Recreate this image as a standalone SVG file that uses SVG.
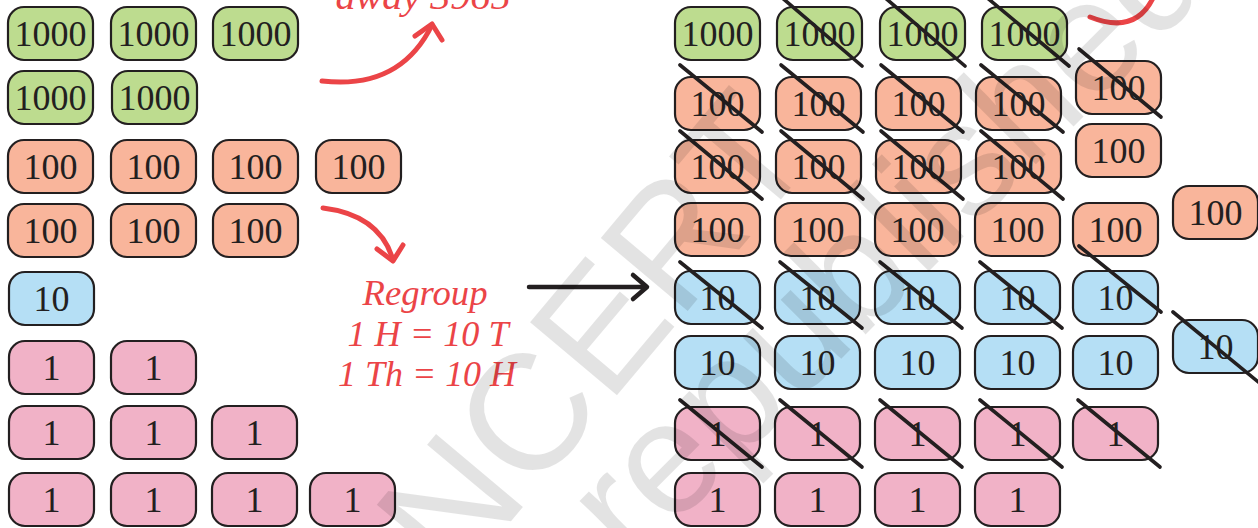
<svg xmlns="http://www.w3.org/2000/svg" width="1258" height="528" viewBox="0 0 1258 528">
<defs>
<style>
.t{stroke:#231f20;stroke-width:2.2}
.th{fill:#bddc8f}
.hu{fill:#f9b59b}
.te{fill:#b5dff5}
.on{fill:#f1b2c7}
.n{font-family:"Liberation Serif","DejaVu Serif",serif;font-size:36px;fill:#231f20;text-anchor:middle}
.x{stroke:#231f20;stroke-width:3.6;stroke-linecap:round}
.red{fill:none;stroke:#eb4447;stroke-width:5;stroke-linecap:round;stroke-linejoin:round}
.rt{font-family:"Liberation Serif","DejaVu Serif",serif;font-style:italic;font-size:35px;fill:#eb4447;text-anchor:middle}
.wm{font-family:"Liberation Sans","DejaVu Sans",sans-serif;fill:#000;fill-opacity:0.11}
</style>
<symbol id="g1000" overflow="visible"><rect class="t th" x="0" y="0" width="85" height="53" rx="16"/><text class="n" x="42.5" y="38.5">1000</text></symbol>
<symbol id="g100" overflow="visible"><rect class="t hu" x="0" y="0" width="85" height="53" rx="16"/><text class="n" x="42.5" y="38.5">100</text></symbol>
<symbol id="g10" overflow="visible"><rect class="t te" x="0" y="0" width="85" height="53" rx="16"/><text class="n" x="42.5" y="38.5">10</text></symbol>
<symbol id="g1" overflow="visible"><rect class="t on" x="0" y="0" width="85" height="53" rx="16"/><text class="n" x="42.5" y="38.5">1</text></symbol>
</defs>
<rect width="1258" height="528" fill="#fff"/>

<g id="left-thousands">
<use href="#g1000" x="8" y="7"/><use href="#g1000" x="111" y="7"/><use href="#g1000" x="213" y="7"/>
<use href="#g1000" x="8" y="71"/><use href="#g1000" x="112" y="71"/>
</g>
<g id="left-hundreds">
<use href="#g100" x="8" y="140"/><use href="#g100" x="111" y="140"/><use href="#g100" x="213" y="140"/><use href="#g100" x="316" y="140"/>
<use href="#g100" x="8" y="204"/><use href="#g100" x="111" y="204"/><use href="#g100" x="213" y="204"/>
</g>
<g id="left-tens">
<use href="#g10" x="9" y="272"/>
</g>
<g id="left-ones">
<use href="#g1" x="9" y="341"/><use href="#g1" x="111" y="341"/>
<use href="#g1" x="9" y="406"/><use href="#g1" x="111" y="406"/><use href="#g1" x="212" y="406"/>
<use href="#g1" x="9" y="473"/><use href="#g1" x="111" y="473"/><use href="#g1" x="212" y="473"/><use href="#g1" x="310" y="473"/>
</g>

<g id="right-thousands">
<use href="#g1000" x="675" y="7"/><use href="#g1000" x="777" y="7"/><use href="#g1000" x="880" y="7"/><use href="#g1000" x="982" y="7"/>
</g>
<g id="right-hundreds">
<use href="#g100" x="675" y="77"/><use href="#g100" x="776" y="77"/><use href="#g100" x="876" y="77"/><use href="#g100" x="976" y="77"/><use href="#g100" x="1076" y="61"/>
<use href="#g100" x="675" y="140"/><use href="#g100" x="776" y="140"/><use href="#g100" x="876" y="140"/><use href="#g100" x="976" y="140"/><use href="#g100" x="1076" y="124"/>
<use href="#g100" x="675" y="203"/><use href="#g100" x="775" y="203"/><use href="#g100" x="875" y="203"/><use href="#g100" x="975" y="203"/><use href="#g100" x="1073" y="203"/>
<use href="#g100" x="1173" y="186"/>
</g>
<g id="right-tens">
<use href="#g10" x="675" y="271"/><use href="#g10" x="775" y="271"/><use href="#g10" x="875" y="271"/><use href="#g10" x="975" y="271"/><use href="#g10" x="1073" y="271"/>
<use href="#g10" x="675" y="336"/><use href="#g10" x="775" y="336"/><use href="#g10" x="875" y="336"/><use href="#g10" x="975" y="336"/><use href="#g10" x="1073" y="336"/>
<use href="#g10" x="1173" y="320"/>
</g>
<g id="right-ones">
<use href="#g1" x="675" y="407"/><use href="#g1" x="775" y="407"/><use href="#g1" x="875" y="407"/><use href="#g1" x="975" y="407"/><use href="#g1" x="1073" y="407"/>
<use href="#g1" x="675" y="473"/><use href="#g1" x="775" y="473"/><use href="#g1" x="875" y="473"/><use href="#g1" x="975" y="473"/>
</g>

<g id="strike-lines">
<line class="x" x1="780" y1="-4" x2="862" y2="66"/>
<line class="x" x1="883" y1="-4" x2="965" y2="66"/>
<line class="x" x1="985" y1="-4" x2="1069" y2="66"/>
<line class="x" x1="680" y1="65" x2="762" y2="132"/>
<line class="x" x1="781" y1="65" x2="863" y2="132"/>
<line class="x" x1="881" y1="65" x2="963" y2="132"/>
<line class="x" x1="981" y1="65" x2="1063" y2="132"/>
<line class="x" x1="1079" y1="49" x2="1161" y2="117"/>
<line class="x" x1="680" y1="131" x2="762" y2="199"/>
<line class="x" x1="781" y1="131" x2="863" y2="199"/>
<line class="x" x1="881" y1="131" x2="963" y2="199"/>
<line class="x" x1="981" y1="131" x2="1063" y2="199"/>
<line class="x" x1="680" y1="262" x2="762" y2="328"/>
<line class="x" x1="780" y1="262" x2="862" y2="328"/>
<line class="x" x1="880" y1="262" x2="962" y2="328"/>
<line class="x" x1="980" y1="262" x2="1062" y2="328"/>
<line class="x" x1="1079" y1="246" x2="1161" y2="312"/>
<line class="x" x1="1173" y1="312" x2="1262" y2="385"/>
<line class="x" x1="680" y1="400" x2="762" y2="467"/>
<line class="x" x1="780" y1="400" x2="862" y2="467"/>
<line class="x" x1="880" y1="400" x2="962" y2="467"/>
<line class="x" x1="980" y1="400" x2="1062" y2="467"/>
<line class="x" x1="1078" y1="400" x2="1160" y2="467"/>
</g>

<g id="connectors">
<path class="red" d="M322,81 Q400,90 432,25"/>
<path class="red" d="M415,36 L432,24 L442,40"/>
<path class="red" d="M323,208 Q380,215 393,260"/>
<path class="red" d="M377,249 L393,261 L403,245"/>
<path class="red" d="M1090,17 Q1135,35 1153,-2"/>
<path d="M529,287 H646 M633,275 L647,287 L633,299" fill="none" stroke="#231f20" stroke-width="4.5" stroke-linecap="round" stroke-linejoin="round"/>
</g>

<g id="labels">
<text class="rt" x="423" y="9" textLength="175" lengthAdjust="spacingAndGlyphs">away 3965</text>
<text class="rt" x="425" y="305" textLength="125" lengthAdjust="spacingAndGlyphs">Regroup</text>
<text class="rt" x="428" y="346" textLength="161" lengthAdjust="spacingAndGlyphs">1 H = 10 T</text>
<text class="rt" x="427" y="386" textLength="178" lengthAdjust="spacingAndGlyphs">1 Th = 10 H</text>
</g>

<g id="watermark">
<text class="wm" font-size="165" transform="translate(455,588) rotate(-50)">NCERT</text>
<text class="wm" font-size="160" transform="translate(160,1040) rotate(-45)">not to be republished</text>
</g>
</svg>
